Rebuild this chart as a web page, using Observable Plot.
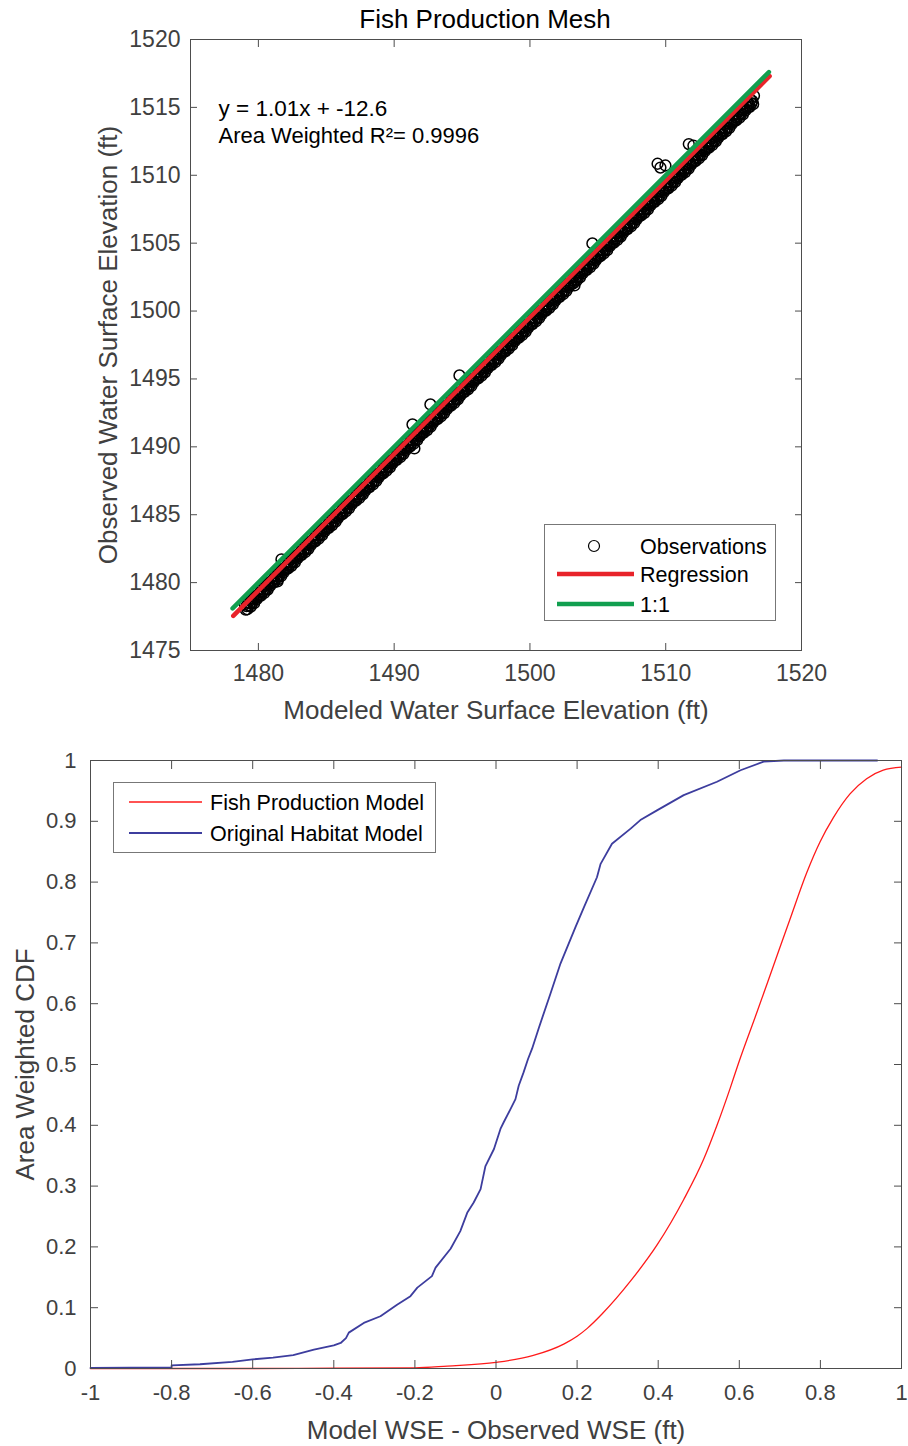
<!DOCTYPE html>
<html><head><meta charset="utf-8">
<script src="https://cdn.jsdelivr.net/npm/d3@7"></script>
<script src="https://cdn.jsdelivr.net/npm/@observablehq/plot@0.6"></script>
<style>
html,body{margin:0;padding:0;background:#fff;}
#chart{width:908px;height:1446px;position:relative;overflow:hidden;background:#fff}
#chart svg{display:block}
</style></head><body><div id="chart"></div>
<script>
// ---------- Top chart data (modeled vs observed WSE, ft) ----------
const obsModeled = [
1479,1479.0625,1479.125,1479.1875,1479.25,1479.3125,1479.375,1479.4375,1479.5,1479.5625,1479.625,1479.6875,1479.75,1479.8125,1479.875,1479.9375,
1480,1480.0625,1480.125,1480.1875,1480.25,1480.3125,1480.375,1480.4375,1480.5,1480.5625,1480.625,1480.6875,1480.75,1480.8125,1480.875,1480.9375,
1481,1481.0625,1481.125,1481.1875,1481.25,1481.3125,1481.375,1481.4375,1481.5,1481.5625,1481.625,1481.6875,1481.75,1481.8125,1481.875,1481.9375,
1482,1482.0625,1482.125,1482.1875,1482.25,1482.3125,1482.375,1482.4375,1482.5,1482.5625,1482.625,1482.6875,1482.75,1482.8125,1482.875,1482.9375,
1483,1483.0625,1483.125,1483.1875,1483.25,1483.3125,1483.375,1483.4375,1483.5,1483.5625,1483.625,1483.6875,1483.75,1483.8125,1483.875,1483.9375,
1484,1484.0625,1484.125,1484.1875,1484.25,1484.3125,1484.375,1484.4375,1484.5,1484.5625,1484.625,1484.6875,1484.75,1484.8125,1484.875,1484.9375,
1485,1485.0625,1485.125,1485.1875,1485.25,1485.3125,1485.375,1485.4375,1485.5,1485.5625,1485.625,1485.6875,1485.75,1485.8125,1485.875,1485.9375,
1486,1486.0625,1486.125,1486.1875,1486.25,1486.3125,1486.375,1486.4375,1486.5,1486.5625,1486.625,1486.6875,1486.75,1486.8125,1486.875,1486.9375,
1487,1487.0625,1487.125,1487.1875,1487.25,1487.3125,1487.375,1487.4375,1487.5,1487.5625,1487.625,1487.6875,1487.75,1487.8125,1487.875,1487.9375,
1488,1488.0625,1488.125,1488.1875,1488.25,1488.3125,1488.375,1488.4375,1488.5,1488.5625,1488.625,1488.6875,1488.75,1488.8125,1488.875,1488.9375,
1489,1489.0625,1489.125,1489.1875,1489.25,1489.3125,1489.375,1489.4375,1489.5,1489.5625,1489.625,1489.6875,1489.75,1489.8125,1489.875,1489.9375,
1490,1490.0625,1490.125,1490.1875,1490.25,1490.3125,1490.375,1490.4375,1490.5,1490.5625,1490.625,1490.6875,1490.75,1490.8125,1490.875,1490.9375,
1491,1491.0625,1491.125,1491.1875,1491.25,1491.3125,1491.375,1491.4375,1491.5,1491.5625,1491.625,1491.6875,1491.75,1491.8125,1491.875,1491.9375,
1492,1492.0625,1492.125,1492.1875,1492.25,1492.3125,1492.375,1492.4375,1492.5,1492.5625,1492.625,1492.6875,1492.75,1492.8125,1492.875,1492.9375,
1493,1493.0625,1493.125,1493.1875,1493.25,1493.3125,1493.375,1493.4375,1493.5,1493.5625,1493.625,1493.6875,1493.75,1493.8125,1493.875,1493.9375,
1494,1494.0625,1494.125,1494.1875,1494.25,1494.3125,1494.375,1494.4375,1494.5,1494.5625,1494.625,1494.6875,1494.75,1494.8125,1494.875,1494.9375,
1495,1495.0625,1495.125,1495.1875,1495.25,1495.3125,1495.375,1495.4375,1495.5,1495.5625,1495.625,1495.6875,1495.75,1495.8125,1495.875,1495.9375,
1496,1496.0625,1496.125,1496.1875,1496.25,1496.3125,1496.375,1496.4375,1496.5,1496.5625,1496.625,1496.6875,1496.75,1496.8125,1496.875,1496.9375,
1497,1497.0625,1497.125,1497.1875,1497.25,1497.3125,1497.375,1497.4375,1497.5,1497.5625,1497.625,1497.6875,1497.75,1497.8125,1497.875,1497.9375,
1498,1498.0625,1498.125,1498.1875,1498.25,1498.3125,1498.375,1498.4375,1498.5,1498.5625,1498.625,1498.6875,1498.75,1498.8125,1498.875,1498.9375,
1499,1499.0625,1499.125,1499.1875,1499.25,1499.3125,1499.375,1499.4375,1499.5,1499.5625,1499.625,1499.6875,1499.75,1499.8125,1499.875,1499.9375,
1500,1500.0625,1500.125,1500.1875,1500.25,1500.3125,1500.375,1500.4375,1500.5,1500.5625,1500.625,1500.6875,1500.75,1500.8125,1500.875,1500.9375,
1501,1501.0625,1501.125,1501.1875,1501.25,1501.3125,1501.375,1501.4375,1501.5,1501.5625,1501.625,1501.6875,1501.75,1501.8125,1501.875,1501.9375,
1502,1502.0625,1502.125,1502.1875,1502.25,1502.3125,1502.375,1502.4375,1502.5,1502.5625,1502.625,1502.6875,1502.75,1502.8125,1502.875,1502.9375,
1503,1503.0625,1503.125,1503.1875,1503.25,1503.3125,1503.375,1503.4375,1503.5,1503.5625,1503.625,1503.6875,1503.75,1503.8125,1503.875,1503.9375,
1504,1504.0625,1504.125,1504.1875,1504.25,1504.3125,1504.375,1504.4375,1504.5,1504.5625,1504.625,1504.6875,1504.75,1504.8125,1504.875,1504.9375,
1505,1505.0625,1505.125,1505.1875,1505.25,1505.3125,1505.375,1505.4375,1505.5,1505.5625,1505.625,1505.6875,1505.75,1505.8125,1505.875,1505.9375,
1506,1506.0625,1506.125,1506.1875,1506.25,1506.3125,1506.375,1506.4375,1506.5,1506.5625,1506.625,1506.6875,1506.75,1506.8125,1506.875,1506.9375,
1507,1507.0625,1507.125,1507.1875,1507.25,1507.3125,1507.375,1507.4375,1507.5,1507.5625,1507.625,1507.6875,1507.75,1507.8125,1507.875,1507.9375,
1508,1508.0625,1508.125,1508.1875,1508.25,1508.3125,1508.375,1508.4375,1508.5,1508.5625,1508.625,1508.6875,1508.75,1508.8125,1508.875,1508.9375,
1509,1509.0625,1509.125,1509.1875,1509.25,1509.3125,1509.375,1509.4375,1509.5,1509.5625,1509.625,1509.6875,1509.75,1509.8125,1509.875,1509.9375,
1510,1510.0625,1510.125,1510.1875,1510.25,1510.3125,1510.375,1510.4375,1510.5,1510.5625,1510.625,1510.6875,1510.75,1510.8125,1510.875,1510.9375,
1511,1511.0625,1511.125,1511.1875,1511.25,1511.3125,1511.375,1511.4375,1511.5,1511.5625,1511.625,1511.6875,1511.75,1511.8125,1511.875,1511.9375,
1512,1512.0625,1512.125,1512.1875,1512.25,1512.3125,1512.375,1512.4375,1512.5,1512.5625,1512.625,1512.6875,1512.75,1512.8125,1512.875,1512.9375,
1513,1513.0625,1513.125,1513.1875,1513.25,1513.3125,1513.375,1513.4375,1513.5,1513.5625,1513.625,1513.6875,1513.75,1513.8125,1513.875,1513.9375,
1514,1514.0625,1514.125,1514.1875,1514.25,1514.3125,1514.375,1514.4375,1514.5,1514.5625,1514.625,1514.6875,1514.75,1514.8125,1514.875,1514.9375,
1515,1515.0625,1515.125,1515.1875,1515.25,1515.3125,1515.375,1515.4375,1515.5,1515.5625,1515.625,1515.6875,1515.75,1515.8125,1515.875,1515.9375,
1516,1516.0625,1516.125,1516.1875,1516.25,1516.3125,1516.375,1516.4375,1516.5,
1481.7,1481.41,1491.35,1491.49,1492.67,1494.81,1503.28,1504.6,1509.61,1509.98,1512.04,1511.7,1509.4
];
const obsObserved = [
1478.4,1478.0125,1478.275,1478.0375,1478.55,1478.3125,1478.475,1478.2375,1478.85,1478.5125,1478.825,1478.4875,1478.97,1478.8625,1478.775,1479.0375,
1479.4,1479.0125,1479.275,1479.0375,1479.55,1479.3125,1479.475,1479.2375,1479.85,1479.5125,1479.825,1479.4875,1479.97,1479.8625,1479.775,1480.0375,
1480.4,1480.0125,1480.275,1480.0375,1480.55,1480.3125,1480.475,1480.2375,1480.85,1480.5125,1480.825,1480.4875,1480.97,1480.8625,1480.775,1481.0375,
1481.4,1481.0125,1481.275,1481.0375,1481.55,1481.3125,1481.475,1481.2375,1481.85,1481.5125,1481.825,1481.4875,1481.97,1481.8625,1481.775,1482.0375,
1482.4,1482.0125,1482.275,1482.0375,1482.55,1482.3125,1482.475,1482.2375,1482.85,1482.5125,1482.825,1482.4875,1482.97,1482.8625,1482.775,1483.0375,
1483.4,1483.0125,1483.275,1483.0375,1483.55,1483.3125,1483.475,1483.2375,1483.85,1483.5125,1483.825,1483.4875,1483.97,1483.8625,1483.775,1484.0375,
1484.4,1484.0125,1484.275,1484.0375,1484.55,1484.3125,1484.475,1484.2375,1484.85,1484.5125,1484.825,1484.4875,1484.97,1484.8625,1484.775,1485.0375,
1485.4,1485.0125,1485.275,1485.0375,1485.55,1485.3125,1485.475,1485.2375,1485.85,1485.5125,1485.825,1485.4875,1485.97,1485.8625,1485.775,1486.0375,
1486.4,1486.0125,1486.275,1486.0375,1486.55,1486.3125,1486.475,1486.2375,1486.85,1486.5125,1486.825,1486.4875,1486.97,1486.8625,1486.775,1487.0375,
1487.4,1487.0125,1487.275,1487.0375,1487.55,1487.3125,1487.475,1487.2375,1487.85,1487.5125,1487.825,1487.4875,1487.97,1487.8625,1487.775,1488.0375,
1488.4,1488.0125,1488.275,1488.0375,1488.55,1488.3125,1488.475,1488.2375,1488.85,1488.5125,1488.825,1488.4875,1488.97,1488.8625,1488.775,1489.0375,
1489.4,1489.0125,1489.275,1489.0375,1489.55,1489.3125,1489.475,1489.2375,1489.85,1489.5125,1489.825,1489.4875,1489.97,1489.8625,1489.775,1490.0375,
1490.4,1490.0125,1490.275,1490.0375,1490.55,1490.3125,1490.475,1490.2375,1490.85,1490.5125,1490.825,1490.4875,1490.97,1490.8625,1490.775,1491.0375,
1491.4,1491.0125,1491.275,1491.0375,1491.55,1491.3125,1491.475,1491.2375,1491.85,1491.5125,1491.825,1491.4875,1491.97,1491.8625,1491.775,1492.0375,
1492.4,1492.0125,1492.275,1492.0375,1492.55,1492.3125,1492.475,1492.2375,1492.85,1492.5125,1492.825,1492.4875,1492.97,1492.8625,1492.775,1493.0375,
1493.4,1493.0125,1493.275,1493.0375,1493.55,1493.3125,1493.475,1493.2375,1493.85,1493.5125,1493.825,1493.4875,1493.97,1493.8625,1493.775,1494.0375,
1494.4,1494.0125,1494.275,1494.0375,1494.55,1494.3125,1494.475,1494.2375,1494.85,1494.5125,1494.825,1494.4875,1494.97,1494.8625,1494.775,1495.0375,
1495.4,1495.0125,1495.275,1495.0375,1495.55,1495.3125,1495.475,1495.2375,1495.85,1495.5125,1495.825,1495.4875,1495.97,1495.8625,1495.775,1496.0375,
1496.4,1496.0125,1496.275,1496.0375,1496.55,1496.3125,1496.475,1496.2375,1496.85,1496.5125,1496.825,1496.4875,1496.97,1496.8625,1496.775,1497.0375,
1497.4,1497.0125,1497.275,1497.0375,1497.55,1497.3125,1497.475,1497.2375,1497.85,1497.5125,1497.825,1497.4875,1497.97,1497.8625,1497.775,1498.0375,
1498.4,1498.0125,1498.275,1498.0375,1498.55,1498.3125,1498.475,1498.2375,1498.85,1498.5125,1498.825,1498.4875,1498.97,1498.8625,1498.775,1499.0375,
1499.4,1499.0125,1499.275,1499.0375,1499.55,1499.3125,1499.475,1499.2375,1499.85,1499.5125,1499.825,1499.4875,1499.97,1499.8625,1499.775,1500.0375,
1500.4,1500.0125,1500.275,1500.0375,1500.55,1500.3125,1500.475,1500.2375,1500.85,1500.5125,1500.825,1500.4875,1500.97,1500.8625,1500.775,1501.0375,
1501.4,1501.0125,1501.275,1501.0375,1501.55,1501.3125,1501.475,1501.2375,1501.85,1501.5125,1501.825,1501.4875,1501.97,1501.8625,1501.775,1502.0375,
1502.4,1502.0125,1502.275,1502.0375,1502.55,1502.3125,1502.475,1502.2375,1502.85,1502.5125,1502.825,1502.4875,1502.97,1502.8625,1502.775,1503.0375,
1503.4,1503.0125,1503.275,1503.0375,1503.55,1503.3125,1503.475,1503.2375,1503.85,1503.5125,1503.825,1503.4875,1503.97,1503.8625,1503.775,1504.0375,
1504.4,1504.0125,1504.275,1504.0375,1504.55,1504.3125,1504.475,1504.2375,1504.85,1504.5125,1504.825,1504.4875,1504.97,1504.8625,1504.775,1505.0375,
1505.4,1505.0125,1505.275,1505.0375,1505.55,1505.3125,1505.475,1505.2375,1505.85,1505.5125,1505.825,1505.4875,1505.97,1505.8625,1505.775,1506.0375,
1506.4,1506.0125,1506.275,1506.0375,1506.55,1506.3125,1506.475,1506.2375,1506.85,1506.5125,1506.825,1506.4875,1506.97,1506.8625,1506.775,1507.0375,
1507.4,1507.0125,1507.275,1507.0375,1507.55,1507.3125,1507.475,1507.2375,1507.85,1507.5125,1507.825,1507.4875,1507.97,1507.8625,1507.775,1508.0375,
1508.4,1508.0125,1508.275,1508.0375,1508.55,1508.3125,1508.475,1508.2375,1508.85,1508.5125,1508.825,1508.4875,1508.97,1508.8625,1508.775,1509.0375,
1509.4,1509.0125,1509.275,1509.0375,1509.55,1509.3125,1509.475,1509.2375,1509.85,1509.5125,1509.825,1509.4875,1509.97,1509.8625,1509.775,1510.0375,
1510.4,1510.0125,1510.275,1510.0375,1510.55,1510.3125,1510.475,1510.2375,1510.85,1510.5125,1510.825,1510.4875,1510.97,1510.8625,1510.775,1511.0375,
1511.4,1511.0125,1511.275,1511.0375,1511.55,1511.3125,1511.475,1511.2375,1511.85,1511.5125,1511.825,1511.4875,1511.97,1511.8625,1511.775,1512.0375,
1512.4,1512.0125,1512.275,1512.0375,1512.55,1512.3125,1512.475,1512.2375,1512.85,1512.5125,1512.825,1512.4875,1512.97,1512.8625,1512.775,1513.0375,
1513.4,1513.0125,1513.275,1513.0375,1513.55,1513.3125,1513.475,1513.2375,1513.85,1513.5125,1513.825,1513.4875,1513.97,1513.8625,1513.775,1514.0375,
1514.4,1514.0125,1514.275,1514.0375,1514.55,1514.3125,1514.475,1514.2375,1514.85,1514.5125,1514.825,1514.4875,1514.97,1514.8625,1514.775,1515.0375,
1515.4,1515.0125,1515.275,1515.0375,1515.55,1515.3125,1515.475,1515.2375,1515.85,
1481.71,1480.09,1491.65,1489.88,1493.12,1495.26,1501.89,1504.98,1510.57,1510.72,1512.19,1512.3,1510.85
];
const regModeled = [1478.15, 1517.65];
const regObserved = [1477.55, 1517.3];
const oneModeled = [1478.1, 1517.6];
const oneObserved = [1478.1, 1517.6];
const topXTicks = [1480, 1490, 1500, 1510, 1520];
const topYTicks = [1475, 1480, 1485, 1490, 1495, 1500, 1505, 1510, 1515, 1520];
const topLegend = ["Observations", "Regression", "1:1"];

// ---------- Bottom chart data (area-weighted CDF) ----------
const habitatX = [-1, -0.8, -0.8, -0.73, -0.65, -0.6, -0.55, -0.5, -0.449, -0.4, -0.383, -0.37, -0.363,
  -0.326, -0.285, -0.244, -0.211, -0.194, -0.158, -0.149, -0.112, -0.088, -0.071, -0.055, -0.038,
  -0.026, -0.005, 0.011, 0.019, 0.036, 0.048, 0.056, 0.068, 0.079, 0.089, 0.106, 0.134, 0.159,
  0.196, 0.217, 0.249, 0.258, 0.286, 0.332, 0.356, 0.397, 0.463, 0.545, 0.603, 0.66, 0.71, 0.8, 0.94];
const habitatY = [0.001, 0.002, 0.005, 0.007, 0.011, 0.015, 0.018, 0.022, 0.031, 0.038, 0.042, 0.05, 0.059,
  0.075, 0.086, 0.105, 0.119, 0.133, 0.152, 0.166, 0.197, 0.226, 0.256, 0.273, 0.295,
  0.333, 0.361, 0.394, 0.405, 0.427, 0.443, 0.465, 0.487, 0.509, 0.526, 0.561, 0.616, 0.666,
  0.726, 0.759, 0.808, 0.83, 0.863, 0.888, 0.902, 0.918, 0.943, 0.965, 0.984, 0.998, 1.0, 1.0, 1.0];
const fishX = [-1, -0.6, -0.4, -0.2, -0.12, 0, 0.09, 0.167, 0.2, 0.225, 0.262, 0.332, 0.398, 0.463,
  0.512, 0.545, 0.578, 0.597, 0.643, 0.684, 0.725, 0.766, 0.799, 0.832, 0.873, 0.914, 0.955, 1.0];
const fishY = [0, 0, 0.0005, 0.001, 0.004, 0.01, 0.021, 0.04, 0.053, 0.066, 0.09, 0.144, 0.204, 0.278,
  0.344, 0.4, 0.462, 0.5, 0.585, 0.662, 0.739, 0.815, 0.866, 0.906, 0.945, 0.97, 0.984, 0.989];
const bottomXTicks = [-1, -0.8, -0.6, -0.4, -0.2, 0, 0.2, 0.4, 0.6, 0.8, 1];
const bottomYTicks = [0, 0.1, 0.2, 0.3, 0.4, 0.5, 0.6, 0.7, 0.8, 0.9, 1];
const bottomLegend = ["Fish Production Model", "Original Habitat Model"];

// ---------- styling ----------
const FONT = "'Liberation Sans', Arial, Helvetica, sans-serif";
const AXIS = "#4d4d4d";
const TEXT = "#404040";
const RED = "#e8232a", GREEN = "#119f4f";
const RED2 = "#ff1a1a", BLUE = "#3d3d9e";
const fmt = d => String(Math.round(d * 10) / 10);

const obs = obsModeled.map((m, i) => ({m, o: obsObserved[i]}));
const reg = regModeled.map((m, i) => ({m, o: regObserved[i]}));
const one = oneModeled.map((m, i) => ({m, o: oneObserved[i]}));

const topSvg = Plot.plot({
  width: 908, height: 730,
  marginTop: 39, marginBottom: 80, marginLeft: 190, marginRight: 107,
  x: {domain: [1475, 1520]},
  y: {domain: [1475, 1520]},
  style: {fontFamily: FONT, fontSize: "23px", color: TEXT, background: "white"},
  marks: [
    Plot.dot(obs, {x: "m", y: "o", r: 5.4, stroke: "#000", strokeWidth: 1.5, fill: "none"}),
    Plot.line(reg, {x: "m", y: "o", stroke: RED, strokeWidth: 4.5}),
    Plot.line(one, {x: "m", y: "o", stroke: GREEN, strokeWidth: 4.5}),
    Plot.frame({stroke: AXIS}),
    Plot.axisX({ticks: topXTicks, tickSize: -7, tickPadding: 21, tickFormat: fmt, label: null, fontSize: 23, stroke: AXIS}),
    Plot.axisX({ticks: topXTicks, anchor: "top", tickSize: -7, tickFormat: () => "", label: null, stroke: AXIS}),
    Plot.axisY({ticks: topYTicks, tickSize: -7, tickPadding: 17, tickFormat: fmt, label: null, fontSize: 23, stroke: AXIS}),
    Plot.axisY({ticks: topYTicks, anchor: "right", tickSize: -7, tickFormat: () => "", label: null, stroke: AXIS}),
    Plot.text(["Fish Production Mesh"], {text: d => d, frameAnchor: "top", dx: -11, dy: -20, fontSize: 26, fill: "#000", lineAnchor: "middle", textAnchor: "middle"}),
    Plot.text(["Modeled Water Surface Elevation (ft)"], {text: d => d, frameAnchor: "bottom", dy: 60, fontSize: 26, fill: TEXT, lineAnchor: "middle", textAnchor: "middle"}),
    Plot.text(["Observed Water Surface Elevation (ft)"], {text: d => d, frameAnchor: "left", dx: -82, rotate: -90, fontSize: 26, fill: TEXT, lineAnchor: "middle", textAnchor: "middle"}),
    Plot.text(["y = 1.01x + -12.6"], {text: d => d, frameAnchor: "top-left", dx: 28, dy: 69, fontSize: 22.5, fill: "#000", lineAnchor: "middle", textAnchor: "start"}),
    Plot.text(["Area Weighted R\u00b2= 0.9996"], {text: d => d, frameAnchor: "top-left", dx: 28, dy: 96, fontSize: 22, fill: "#000", lineAnchor: "middle", textAnchor: "start"})
  ]
});

// top legend
{
  const g = d3.select(topSvg).append("g").attr("font-family", FONT).attr("font-size", 21.5)
    .attr("fill", "#000").attr("text-anchor", "start");
  g.append("rect").attr("x", 544.5).attr("y", 524.5).attr("width", 231).attr("height", 96)
    .attr("fill", "white").attr("stroke", "#777").attr("stroke-width", 1);
  g.append("circle").attr("cx", 594).attr("cy", 546).attr("r", 5.5).attr("fill", "none").attr("stroke", "#000").attr("stroke-width", 1.2);
  g.append("line").attr("x1", 557).attr("x2", 634).attr("y1", 574).attr("y2", 574).attr("stroke", RED).attr("stroke-width", 4.5);
  g.append("line").attr("x1", 557).attr("x2", 634).attr("y1", 604).attr("y2", 604).attr("stroke", GREEN).attr("stroke-width", 4.5);
  const ys = [546, 574, 604];
  topLegend.forEach((t, i) => g.append("text").attr("x", 640).attr("y", ys[i]).attr("dy", "0.36em").attr("text-anchor", "start").text(t));
}

const habitat = habitatX.map((x, i) => ({x, y: habitatY[i]}));
const fish = fishX.map((x, i) => ({x, y: fishY[i]}));

const bottomSvg = Plot.plot({
  width: 908, height: 716,
  marginTop: 30, marginBottom: 78, marginLeft: 90, marginRight: 7,
  x: {domain: [-1, 1]},
  y: {domain: [0, 1]},
  style: {fontFamily: FONT, fontSize: "22px", color: TEXT, background: "white"},
  marks: [
    Plot.line(fish, {x: "x", y: "y", stroke: RED2, strokeWidth: 1.3, curve: "monotone-x"}),
    Plot.line(habitat, {x: "x", y: "y", stroke: BLUE, strokeWidth: 1.8}),
    Plot.frame({stroke: AXIS}),
    Plot.axisX({ticks: bottomXTicks, tickSize: -8, tickPadding: 24, tickFormat: fmt, label: null, fontSize: 22, stroke: AXIS}),
    Plot.axisX({ticks: bottomXTicks, anchor: "top", tickSize: -8, tickFormat: () => "", label: null, stroke: AXIS}),
    Plot.axisY({ticks: bottomYTicks, tickSize: -8, tickPadding: 22, tickFormat: fmt, label: null, fontSize: 22, stroke: AXIS}),
    Plot.axisY({ticks: bottomYTicks, anchor: "right", tickSize: -8, tickFormat: () => "", label: null, stroke: AXIS}),
    Plot.text(["Model WSE - Observed WSE (ft)"], {text: d => d, frameAnchor: "bottom", dy: 62, fontSize: 26, fill: TEXT, lineAnchor: "middle", textAnchor: "middle"}),
    Plot.text(["Area Weighted CDF"], {text: d => d, frameAnchor: "left", dx: -65, rotate: -90, fontSize: 26, fill: TEXT, lineAnchor: "middle", textAnchor: "middle"})
  ]
});

// bottom legend
{
  const g = d3.select(bottomSvg).append("g").attr("font-family", FONT).attr("font-size", 21.5)
    .attr("fill", "#000").attr("text-anchor", "start");
  g.append("rect").attr("x", 113.5).attr("y", 52.5).attr("width", 322).attr("height", 70)
    .attr("fill", "white").attr("stroke", "#777").attr("stroke-width", 1);
  const ys = [72, 103];
  const cols = [RED2, BLUE];
  const ws = [1.3, 1.8];
  bottomLegend.forEach((t, i) => {
    g.append("line").attr("x1", 129).attr("x2", 202).attr("y1", ys[i]).attr("y2", ys[i]).attr("stroke", cols[i]).attr("stroke-width", ws[i]);
    g.append("text").attr("x", 210).attr("y", ys[i]).attr("dy", "0.36em").attr("text-anchor", "start").text(t);
  });
}

const chart = document.getElementById("chart");
chart.appendChild(topSvg);
chart.appendChild(bottomSvg);
</script>
</body></html>
